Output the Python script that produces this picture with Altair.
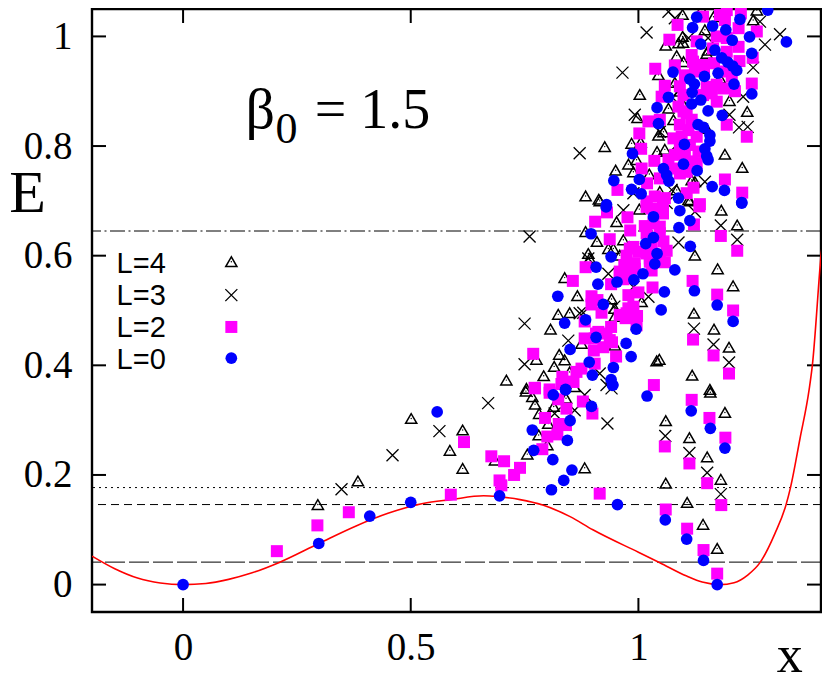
import altair as alt
import pandas as pd

# (x, E)
L0 = [(0,0),(0.298,0.075),(0.41,0.125),(0.50,0.15),(0.558,0.315),(0.695,0.162),(0.809,0.173),(0.836,0.19),(0.854,0.209),(0.812,0.228),(0.77,0.245),(0.767,0.282),(0.844,0.263),(0.85,0.299),(0.897,0.325),(0.813,0.346),(0.84,0.355),(0.943,0.364),(1.019,0.344),(0.954,0.146),(1.116,0.317),(1.158,0.285),(1.19,0.249),(1.059,0.118),(1.106,0.083),(1.143,0.044),(1.173,0),
(0.929,0.689),(1.033,0.671),(1.091,0.682),(1.113,0.664),(1.089,0.651),(1.227,0.696),(0.896,0.64),(1.033,0.633),(1.016,0.622),(1.114,0.617),(1.041,0.604),(0.94,0.598),(1.036,0.585),(0.907,0.579),(1.08,0.574),(1.01,0.567),(0.99,0.556),(0.953,0.552),(0.911,0.548),(1.057,0.534),(1.123,0.536),(0.823,0.526),(0.923,0.511),(1.173,0.51),(1.05,0.501),(0.884,0.483),(1.208,0.48),(0.838,0.477),(0.995,0.466),(0.907,0.451),(0.973,0.44),(0.85,0.429),(0.984,0.416),(0.892,0.406),(0.945,0.396),(0.899,0.382),(0.94,0.374),(0.944,0.364),(0.84,0.356),
(1.284,1.048),(1.325,0.99),(1.128,1.035),(1.119,1.016),(1.163,1.019),(1.223,1.031),(1.192,1.012),(1.206,0.993),(1.244,0.999),(1.137,0.986),(1.168,0.975),(1.249,0.969),(1.183,0.961),(1.196,0.953),(1.207,0.946),(1.216,0.938),(1.076,0.935),(1.175,0.933),(1.145,0.927),(1.113,0.922),(1.123,0.913),(1.21,0.913),(1.118,0.898),(1.249,0.895),(1.066,0.889),(1.137,0.884),(1.117,0.877),(1.041,0.87),(1.153,0.864),(1.184,0.856),(1.044,0.841),(1.131,0.839),(1.143,0.834),(1.157,0.82),(1.157,0.809),(1.101,0.803),(1.146,0.795),(0.987,0.786),(1.15,0.782),(1.153,0.775),(1.099,0.767),(1.055,0.759),(1.129,0.755),(1.062,0.747),(1.067,0.736),(0.946,0.737),(1.002,0.739),(0.985,0.721),(1.006,0.713),(1.162,0.726),(1.189,0.719),(1.088,0.705),(1.227,0.697),(0.93,0.693)]

L2 = [(0.206,0.061),(0.295,0.108),(0.364,0.132),(0.588,0.164),(0.617,0.26),(0.677,0.234),(0.705,0.225),(0.74,0.213),(0.727,0.2),(0.695,0.19),(0.699,0.181),(0.915,0.166),(0.789,0.247),(0.8,0.27),(0.822,0.274),(0.825,0.293),(0.841,0.291),(0.795,0.304),(0.842,0.321),(0.899,0.312),(0.878,0.334),(0.824,0.338),(0.805,0.35),(0.773,0.358),(0.831,0.366),(0.857,0.37),(1.034,0.364),(1.117,0.337),(1.156,0.304),(1.191,0.268),(1.058,0.252),(1.112,0.221),(1.151,0.185),(1.182,0.145),(1.06,0.137),(1.107,0.102),(1.143,0.063),(1.173,0.02),
(0.931,0.679),(0.905,0.662),(0.976,0.67),(0.982,0.646),(0.937,0.63),(1.134,0.69),(1.122,0.657),(1.181,0.636),(1.217,0.609),(1.014,0.654),(1.047,0.653),(1.018,0.689),(1.054,0.689),(1.054,0.677),(1.018,0.641),(1.055,0.626),(1.062,0.609),(0.981,0.613),(1.0,0.607),(1.025,0.595),(1.058,0.588),(0.969,0.583),(0.884,0.579),(1.029,0.573),(0.992,0.576),(0.959,0.565),(0.967,0.557),(0.856,0.554),(0.94,0.548),(1.031,0.542),(1.119,0.554),(1.173,0.529),(1.0,0.533),(0.978,0.528),(0.897,0.526),(0.91,0.519),(0.897,0.511),(1.208,0.5),(0.919,0.496),(0.978,0.504),(0.997,0.49),(0.972,0.486),(0.996,0.473),(0.94,0.47),(0.882,0.48),(0.882,0.449),(0.907,0.458),(1.12,0.447),(0.942,0.442),(0.923,0.433),(0.902,0.427),(0.769,0.421),(0.951,0.416),(1.165,0.418),(0.904,0.403),(0.875,0.394),(0.864,0.388),(1.199,0.385),(0.833,0.379),(0.857,0.37),(0.835,0.367),(0.772,0.359),(0.805,0.356),
(1.086,1.021),(1.068,0.994),(1.037,0.941),(1.194,1.048),(1.225,1.042),(1.142,1.036),(1.19,1.03),(1.22,1.015),(1.26,1.009),(1.172,1.0),(1.22,0.981),(1.128,0.991),(1.194,0.972),(1.117,0.966),(1.251,0.961),(1.222,0.955),(1.08,0.947),(1.166,0.951),(1.124,0.942),(1.144,0.939),(1.102,0.929),(1.205,0.927),(1.249,0.914),(1.058,0.91),(1.186,0.905),(1.161,0.896),(1.212,0.9),(1.051,0.89),(1.088,0.872),(1.106,0.86),(1.022,0.845),(1.047,0.848),(1.194,0.839),(1.002,0.823),(1.077,0.814),(1.128,0.817),(1.238,0.817),(1.006,0.795),(1.091,0.796),(1.035,0.773),(1.132,0.79),(1.066,0.775),(1.128,0.769),(1.007,0.759),(1.091,0.75),(1.047,0.741),(1.19,0.739),(1.019,0.732),(0.954,0.72),(1.121,0.724),(1.106,0.714),(1.228,0.715),(1.036,0.708),(1.058,0.705),(1.018,0.699),(1.135,0.694),
(1.099,0.863),(1.117,0.848),(1.091,0.839),(1.11,0.829),(1.095,0.817),(1.113,0.802),(1.102,0.787),(1.117,0.772),(1.08,0.784),(1.077,0.759),(1.106,0.753),(1.142,0.893),(1.172,0.912),(1.142,0.948),(1.186,0.936),(1.194,0.997),(1.164,0.978),(1.179,1.039),(1.12,0.954),(1.131,0.936),(1.091,0.909),(1.15,0.908),(1.099,0.893),(1.172,0.881),
(1.033,0.659),(1.029,0.686),(1.047,0.641),(0.989,0.616),(0.974,0.6),(1.029,0.62),(0.992,0.586),(0.959,0.571),(0.981,0.565),(0.974,0.495),(0.989,0.507),(0.959,0.492),(0.912,0.461),(0.93,0.458),(0.937,0.446),(0.904,0.449),(1.025,0.589),(1.047,0.598),(1.018,0.604)]

L4 = [(0.296,0.146),(0.384,0.189),(0.501,0.303),(0.586,0.245),(0.614,0.282),(0.614,0.212),(0.882,0.213),(0.685,0.227),(0.756,0.238),(0.781,0.273),(0.8,0.255),(0.802,0.294),(0.782,0.312),(0.814,0.325),(0.773,0.329),(0.767,0.343),(0.753,0.353),(0.841,0.34),(0.86,0.361),(0.71,0.373),(1.06,0.299),(1.112,0.268),(1.151,0.233),(1.181,0.192),(1.06,0.185),(1.107,0.15),(1.142,0.11),(1.173,0.066),(1.158,0.351),(1.19,0.314),
(1.182,0.683),(1.217,0.656),(0.909,0.626),(0.89,0.604),(0.893,0.595),(0.934,0.613),(0.945,0.613),(0.959,0.601),(0.967,0.629),(0.952,0.662),(1.002,0.685),(1.124,0.601),(1.174,0.576),(1.208,0.545),(0.838,0.56),(0.866,0.527),(0.824,0.493),(0.849,0.496),(0.807,0.466),(0.941,0.521),(0.948,0.504),(0.948,0.489),(1.007,0.516),(1.122,0.495),(1.166,0.466),(1.199,0.433),(1.04,0.408),(1.046,0.411),(1.118,0.382),(1.157,0.356),(0.875,0.44),(0.826,0.42),(0.838,0.41),(0.815,0.398),(0.792,0.381),(0.776,0.411),(0.754,0.358),(0.884,0.644),(0.948,0.437),(0.849,0.388),(1.113,0.70),(0.915,0.70),(0.981,0.616),
(1.097,1.04),(1.165,1.036),(1.26,1.048),(1.139,1.049),(1.146,1.012),(1.097,1.0),(1.098,0.989),(1.06,0.984),(1.084,0.965),(1.15,0.969),(1.044,0.93),(1.08,0.916),(1.179,0.924),(1.003,0.894),(1.2,0.883),(1.066,0.869),(1.239,0.863),(0.998,0.852),(1.077,0.848),(1.044,0.82),(0.985,0.805),(1.005,0.807),(0.926,0.799),(1.058,0.794),(1.041,0.79),(1.19,0.785),(0.978,0.767),(0.996,0.775),(0.95,0.756),(1.228,0.761),(1.024,0.749),(1.117,0.738),(0.884,0.709),(0.913,0.703),(1.11,0.702),(1.084,0.72),(0.989,0.753),(1.088,0.988),(1.153,0.975),(1.099,0.954),(1.091,0.9),(1.095,0.881),(1.055,0.826),(1.15,0.832),(1.124,0.735),(1.047,0.717),(1.252,1.03)]

L3 = [(0.348,0.174),(0.46,0.236),(0.563,0.28),(0.67,0.331),(0.932,0.294),(1.059,0.271),(1.112,0.24),(1.151,0.204),(1.181,0.165),(0.882,0.346),(0.86,0.318),(0.816,0.312),(0.93,0.364),
(0.761,0.635),(0.75,0.476),(0.75,0.402),(0.846,0.445),(0.879,0.496),(1.181,0.655),(1.217,0.629),(1.088,0.624),(1.122,0.467),(1.165,0.438),(1.199,0.405),(0.967,0.683),(0.934,0.567),(0.947,0.507),(1.022,0.525),(0.915,0.385),(1.124,0.68),(0.89,0.595),(0.941,0.358),(0.871,0.495),(0.989,0.543),(1.062,0.696),
(0.871,0.787),(0.965,0.934),(1.018,1.007),(1.066,1.045),(1.08,1.033),(1.311,1.004),(1.278,0.985),(1.252,0.943),(1.267,1.027),(0.992,0.857),(1.23,0.89),(1.2,0.857),(1.221,0.834),(1.24,0.835),(1.146,0.735),(1.073,0.72),(1.088,0.9),(1.091,0.875),(0.989,0.714),(1.047,0.826),(1.084,0.802),(1.153,0.997),(1.11,0.997)]

curve_x = [-0.2,-0.15,-0.1,-0.05,0,0.05,0.1,0.15,0.21,0.298,0.38,0.45,0.527,0.588,0.66,0.695,0.74,0.79,0.85,0.90,1.0,1.047,1.106,1.14,1.179,1.21,1.24,1.267,1.30,1.324,1.334,1.355,1.375,1.382,1.401,1.406,1.411,1.415]
curve_e = [0.052,0.029,0.012,0.003,0,0.002,0.0095,0.021,0.04,0.075,0.107,0.13,0.148,0.155,0.162,0.16,0.155,0.145,0.124,0.1,0.059,0.04,0.0155,0.0046,0,0.0034,0.0174,0.04,0.0934,0.145,0.177,0.267,0.356,0.4,0.6,0.644,0.8,0.884]

level_e = [0.041, 0.146, 0.177, 0.645]
level_dash = [[20, 4], [8, 5], [2, 4], [15, 3.5, 2, 3.5]]

x_ticks = [0, 0.5, 1]
y_ticks = [0, 0.2, 0.4, 0.6, 0.8, 1]

legend_labels = ["L=4", "L=3", "L=2", "L=0"]
legend_text_x = -0.146
legend_text_e = [0.568, 0.510, 0.451, 0.393]
legend_mark_x = 0.106
legend_mark_e = [0.589, 0.528, 0.470, 0.413]

XS = alt.Scale(domain=[-0.2, 1.401], nice=False, zero=False)
YS = alt.Scale(domain=[-0.05, 1.05], nice=False, zero=False)
SERIF = "Liberation Serif"
SANS = "Liberation Sans"
CROSS = "M-1,-1L1,1M-1,1L1,-1"
PW, PH = 729, 603

def pts(rows):
    return pd.DataFrame(rows, columns=["x", "e"])

X = alt.X("x:Q", scale=XS, title=None, axis=alt.Axis(values=x_ticks, format="~g", grid=False, ticks=False, domain=False,
          labelFont=SERIF, labelFontSize=39, labelColor="black", labelPadding=16, labelFlush=False))
Y = alt.Y("e:Q", scale=YS, title=None, axis=alt.Axis(values=y_ticks, format="~g", grid=False, ticks=False, domain=False,
          labelFont=SERIF, labelFontSize=39, labelColor="black", labelPadding=20))

layers = []
for e, d in zip(level_e, level_dash):
    layers.append(alt.Chart(pd.DataFrame({"e": [e]})).mark_rule(color="black", strokeWidth=1, strokeDash=d).encode(y=Y))

xt = pd.DataFrame({"x": x_ticks})
yt = pd.DataFrame({"e": y_ticks})
XN = alt.X("x:Q", scale=XS)
YN = alt.Y("e:Q", scale=YS)
tick = dict(color="black", strokeWidth=2)
layers += [
    alt.Chart(xt).mark_rule(**tick).encode(x=XN, y=alt.value(PH), y2=alt.value(PH - 14)),
    alt.Chart(xt).mark_rule(**tick).encode(x=XN, y=alt.value(0), y2=alt.value(14)),
    alt.Chart(yt).mark_rule(**tick).encode(y=YN, x=alt.value(0), x2=alt.value(14)),
    alt.Chart(yt).mark_rule(**tick).encode(y=YN, x=alt.value(PW), x2=alt.value(PW - 14)),
]

curve = pd.DataFrame({"x": curve_x, "e": curve_e})
layers.append(alt.Chart(curve).mark_line(color="#ff0000", strokeWidth=1.6, interpolate="monotone", clip=True).encode(x=X, y=Y))

def marks(d):
    return [
        alt.Chart(d[0]).mark_point(shape="triangle-up", size=125, filled=False, stroke="black", strokeWidth=1.5, opacity=1).encode(x=XN, y=YN),
        alt.Chart(d[0]).mark_point(shape="circle", size=2, filled=True, color="black", opacity=1).encode(x=XN, y=YN),
        alt.Chart(d[1]).mark_point(shape=CROSS, size=144, filled=False, stroke="black", strokeWidth=1.3, opacity=1).encode(x=XN, y=YN),
        alt.Chart(d[2]).mark_point(shape="square", size=144, filled=True, color="#ff00ff", opacity=1).encode(x=XN, y=YN),
        alt.Chart(d[3]).mark_point(shape="circle", size=137, filled=True, color="#0000ff", opacity=1).encode(x=XN, y=YN),
    ]

layers += marks([pts(L4), pts(L3), pts(L2), pts(L0)])
layers += marks([pts([(legend_mark_x, e)]) for e in legend_mark_e])

legend_df = pd.DataFrame({"x": [legend_text_x] * 4, "e": legend_text_e, "t": legend_labels})
layers.append(alt.Chart(legend_df).mark_text(font=SANS, fontSize=29, align="left", baseline="alphabetic", color="black").encode(x=XN, y=YN, text="t:N"))

def text(x, e, t, size):
    df = pd.DataFrame({"x": [x], "e": [e], "t": [t]})
    return alt.Chart(df).mark_text(font=SERIF, fontSize=size, align="left", baseline="alphabetic", color="black").encode(x=XN, y=YN, text="t:N")

layers += [
    text(0.137, 0.833, "β", 58),
    text(0.203, 0.806, "0", 44),
    text(0.289, 0.833, "= 1.5", 56),
    text(-0.382, 0.680, "E", 60),
    text(1.304, -0.160, "x", 52),
]

chart = alt.layer(*layers).resolve_scale(x="shared", y="shared").properties(
    width=PW, height=PH,
    padding={"left": 84, "top": 1, "right": 1, "bottom": 70},
    autosize=alt.AutoSizeParams(type="none"),
).configure_view(stroke="black", strokeWidth=2.4)

chart.save("out.html", embed_options={"renderer": "svg", "actions": False})
